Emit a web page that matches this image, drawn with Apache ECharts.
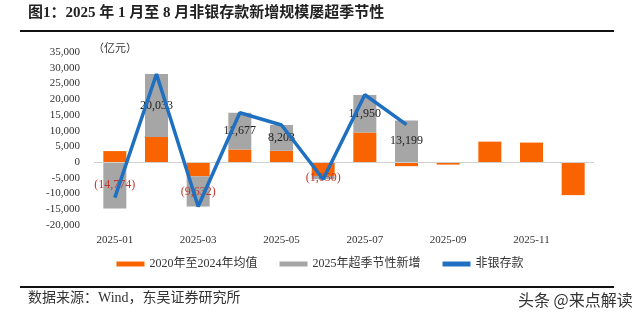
<!DOCTYPE html>
<html><head><meta charset="utf-8">
<script src="https://cdn.jsdelivr.net/npm/echarts@6/dist/echarts.min.js"></script>
<style>html,body{margin:0;padding:0;background:#fff}#c{width:640px;height:320px}</style>
</head><body><div id="c"></div>
<script>
var categories = ['2025-01','2025-02','2025-03','2025-04','2025-05','2025-06','2025-07','2025-08','2025-09','2025-10','2025-11','2025-12'];
var avg2020to2024 = [3500, 8000, -4500, 4000, 3600, -4400, 9400, -1300, -800, 6500, 6200, -10500];
var excess2025 = [-14774, 20033, -9632, 11677, 8203, -1050, 11950, 13199, null, null, null, null];
var nonbankDeposit = [-11300, 28000, -14100, 15700, 11800, -5450, 21400, 11900];
var yTicks = {min: -20000, max: 35000, interval: 5000};

var serif = "'Liberation Serif','Noto Sans CJK SC',serif";
function fmt(v){ return Math.abs(v).toString().replace(/\B(?=(\d{3})+(?!\d))/g, ','); }

var chart = echarts.init(document.getElementById('c'));
chart.setOption({
  animation: false,
  textStyle: {fontFamily: serif},
  grid: {left: 94, right: 46, top: 52, bottom: 95},
  legend: {
    bottom: 45, left: 'center', itemWidth: 28, itemHeight: 5, itemGap: 22,
    textStyle: {fontSize: 12, color: '#333', fontFamily: serif},
    data: [{name: '2020年至2024年均值', icon: 'rect'}, {name: '2025年超季节性新增', icon: 'rect'}, {name: '非银存款', icon: 'rect'}]
  },
  graphic: [
    {type: 'text', left: 28, top: 6, style: {text: '图1：2025 年 1 月至 8 月非银存款新增规模屡超季节性', font: "bold 15px " + serif, fill: '#222'}},
    {type: 'rect', shape: {x: 20, y: 30, width: 594, height: 2}, style: {fill: '#111'}},
    {type: 'text', left: 93, top: 44, style: {text: '（亿元）', font: "11px " + serif, fill: '#333'}},
    {type: 'rect', shape: {x: 20, y: 286, width: 594, height: 2}, style: {fill: '#111'}},
    {type: 'text', left: 28, top: 291, style: {text: '数据来源：Wind，东吴证券研究所', font: "14px " + serif, fill: '#333'}},
    {type: 'text', left: 518, top: 292, style: {text: '头条 @来点解读', font: "16px 'Noto Sans CJK SC',sans-serif", fill: '#333'}}
  ],
  xAxis: {
    type: 'category', data: categories,
    axisLine: {show: false, onZero: false}, axisTick: {show: false},
    axisLabel: {interval: 1, color: '#333', fontSize: 11, margin: 10, fontFamily: serif}
  },
  yAxis: {
    type: 'value', min: yTicks.min, max: yTicks.max, interval: yTicks.interval,
    splitLine: {show: false}, axisLine: {show: false}, axisTick: {show: false},
    axisLabel: {color: '#333', fontSize: 11, margin: 14, fontFamily: serif,
      formatter: function(v){ return (v < 0 ? '-' : '') + fmt(v); }}
  },
  series: [
    {name: '2020年至2024年均值', type: 'bar', stack: 'a', barWidth: 23, data: avg2020to2024,
      itemStyle: {color: '#fa6400'},
      markLine: {silent: true, symbol: 'none', label: {show: false}, lineStyle: {color: '#d0d0d0', width: 1, type: 'solid'}, data: [{yAxis: 0}]}},
    {name: '2025年超季节性新增', type: 'bar', stack: 'a', barWidth: 23, data: excess2025,
      itemStyle: {color: '#a6a6a6'},
      label: {show: true, position: 'inside', fontSize: 12, fontFamily: serif,
        formatter: function(p){ return p.value < 0 ? '{n|(' + fmt(p.value) + ')}' : '{p|' + fmt(p.value) + '}'; },
        rich: {n: {color: '#c0392b', fontSize: 12, fontFamily: serif}, p: {color: '#222', fontSize: 12, fontFamily: serif}}}},
    {name: '非银存款', type: 'line', data: nonbankDeposit, showSymbol: false, symbol: 'none',
      lineStyle: {color: '#1f70c1', width: 3.5}, itemStyle: {color: '#1f70c1'}, z: 5}
  ]
});
</script></body></html>
